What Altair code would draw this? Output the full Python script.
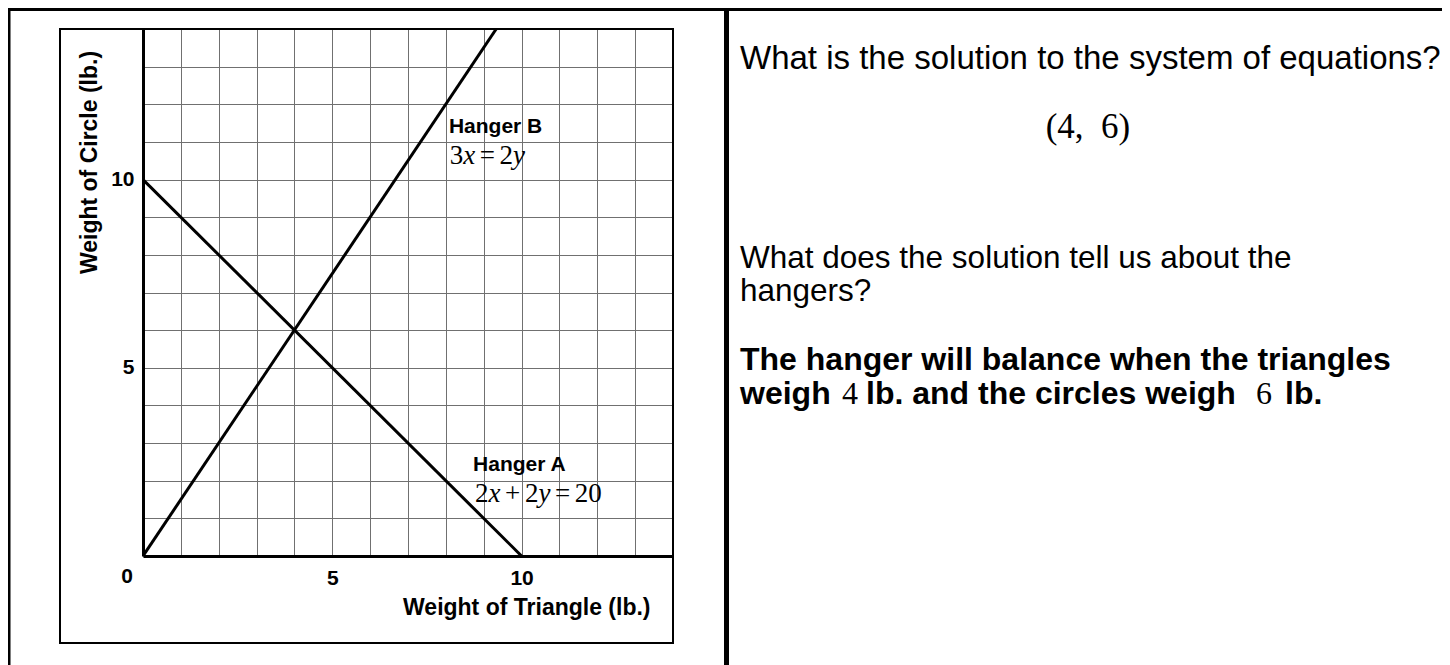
import altair as alt
import pandas as pd

# ---------------- data ----------------
line_hanger = ["A", "A", "B", "B"]
line_x = [0, 10, 0, 9.33]
line_y = [10, 0, 0, 14]

label_text = ["Hanger B", "Hanger A"]
label_x = [8.08, 8.72]
label_y = [11.25, 2.25]

eq_B_parts = [("3", False), ("x", True), ("=", False), ("2", False), ("y", True)]
eq_A_parts = [("2", False), ("x", True), ("+", False), ("2", False), ("y", True),
              ("=", False), ("2", False), ("0", False)]
eq_x = [8.1, 8.77]
eq_y = [10.42, 1.43]

x_ticks = list(range(0, 15))
y_ticks = list(range(0, 15))

q_line1 = "What is the solution to the system of equations?"
answer = "(4,\u00a0\u00a06)"
q_line3 = "What does the solution tell us about the"
q_line4 = "hangers?"
a_line5 = "The hanger will balance when the triangles"
a_line6 = ["weigh", "4", "lb. and the circles weigh", "6", "lb."]
a_line6_serif = [False, True, False, True, False]

# ---------------- layout ----------------
W, H = 530, 527          # plot area
X0, Y0 = 143, 29         # absolute position of plot origin
UNIT = W / 14.0
SANS = "Liberation Sans"
SERIF = "Liberation Serif"


def px(a):
    return a - X0


def py(b):
    return b - Y0


one = pd.DataFrame({"k": [0]})

lines_df = pd.DataFrame({"x": line_x, "y": line_y, "hanger": line_hanger})

xscale = alt.Scale(domain=[0, 14], nice=False, zero=False)
yscale = alt.Scale(domain=[0, 14], nice=False, zero=False)

common_axis = dict(
    format="d",
    labelExpr="(datum.value == 5 || datum.value == 10) ? datum.label : ''",
    grid=True, gridColor="#707070", gridWidth=1, ticks=False, tickSize=0, tickCount=30,
    domainColor="black", domainWidth=3, labelFont=SANS, labelFontSize=21,
    labelFontWeight="bold", labelColor="black", labelOverlap=False, labelFlush=False,
    titleFont=SANS, titleFontSize=23, titleFontWeight="bold", titleColor="black",
    titleBaseline="alphabetic",
)
x_axis = alt.Axis(values=x_ticks, labelPadding=11, title="Weight of Triangle (lb.)",
                  titleX=507, titleY=58, titleAlign="right", **common_axis)
y_axis = alt.Axis(values=y_ticks, labelPadding=9, title="Weight of Circle (lb.)",
                  titleAngle=270, titleX=-47, titleY=133, titleAlign="center",
                  **common_axis)

lines = alt.Chart(lines_df).mark_line(color="black", strokeWidth=3, clip=True).encode(
    x=alt.X("x:Q", scale=xscale, axis=x_axis),
    y=alt.Y("y:Q", scale=yscale, axis=y_axis),
    detail="hanger:N",
)

origin = alt.Chart(pd.DataFrame({"x": [0], "y": [0], "t": ["0"]})).mark_text(
    font=SANS, fontSize=21, fontWeight="bold", color="black", align="center",
    baseline="alphabetic", dx=-16, dy=27,
).encode(x="x:Q", y="y:Q", text="t:N")

labels = alt.Chart(pd.DataFrame({"x": label_x, "y": label_y, "t": label_text})).mark_text(
    font=SANS, fontSize=21, fontWeight="bold", color="black", align="left",
    baseline="alphabetic",
).encode(x="x:Q", y="y:Q", text="t:N")

# equations: digits/operators upright, variables italic
EQ_SIZE = 27
widths = {"0": 0.5, "2": 0.5, "3": 0.5, "x": 0.444, "y": 0.444, "=": 0.564, "+": 0.564}
space = {"=": 0.17, "+": 0.17}
rows = []
for parts, x0, y0 in [(eq_B_parts, eq_x[0], eq_y[0]), (eq_A_parts, eq_x[1], eq_y[1])]:
    cur = 0.0
    for ch, ital in parts:
        sp = space.get(ch, 0.0) * EQ_SIZE
        cur += sp
        rows.append({"x": x0 + cur / UNIT, "y": y0, "t": ch, "ital": ital})
        cur += widths[ch] * EQ_SIZE + sp
eq_df = pd.DataFrame(rows)
eq_up = alt.Chart(eq_df[~eq_df.ital]).mark_text(
    font=SERIF, fontSize=EQ_SIZE, color="black", align="left", baseline="alphabetic"
).encode(x="x:Q", y="y:Q", text="t:N")
eq_it = alt.Chart(eq_df[eq_df.ital]).mark_text(
    font=SERIF, fontSize=EQ_SIZE, fontStyle="italic", color="black", align="left",
    baseline="alphabetic"
).encode(x="x:Q", y="y:Q", text="t:N")

# frames
box = alt.Chart(one).mark_rect(fill="transparent", stroke="black", strokeWidth=2).encode(
    x=alt.value(px(60)), x2=alt.value(px(673)), y=alt.value(py(29)), y2=alt.value(py(643)))


def hrule(y, xa, xb, w):
    return alt.Chart(one).mark_rule(color="black", strokeWidth=w).encode(
        y=alt.value(py(y)), x=alt.value(px(xa)), x2=alt.value(px(xb)))


def vrule(x, ya, yb, w):
    return alt.Chart(one).mark_rule(color="black", strokeWidth=w).encode(
        x=alt.value(px(x)), y=alt.value(py(ya)), y2=alt.value(py(yb)))


RIGHT_EDGE = 1450
BOTTOM_EDGE = 680
frame = [hrule(8.5, 8, 1449, 5), vrule(8, 8, BOTTOM_EDGE, 5), vrule(1447, 8, BOTTOM_EDGE, 4),
         vrule(726.5, 8, BOTTOM_EDGE, 5)]


def txt(s, x, y, size=32, bold=False, font=SANS, align="left"):
    return alt.Chart(pd.DataFrame({"t": [s]})).mark_text(
        font=font, fontSize=size, fontWeight="bold" if bold else "normal", color="black",
        align=align, baseline="alphabetic",
    ).encode(x=alt.value(px(x)), y=alt.value(py(y)), text="t:N")


right = [
    txt(q_line1, 740, 69, size=33),
    txt(answer, 1088, 138, size=35, font=SERIF, align="center"),
    txt(q_line3, 740, 268, size=31.5),
    txt(q_line4, 740, 301, size=31.5),
    txt(a_line5, 740, 370, size=32, bold=True),
]
line6_left = [740, 842, 866, 1256, 1285]
for s, serif, lx in zip(a_line6, a_line6_serif, line6_left):
    if serif:
        right.append(txt(s, lx, 404, size=32, font=SERIF))
    else:
        right.append(txt(s, lx, 404, size=32, bold=True))

chart = alt.layer(lines, origin, labels, eq_up, eq_it, box, *frame, *right).properties(
    width=W, height=H,
    autosize=alt.AutoSizeParams(type="none"),
    padding={"left": X0 - 8, "top": Y0 - 8, "right": RIGHT_EDGE - 8 - (X0 + W),
             "bottom": BOTTOM_EDGE - 8 - (Y0 + H)},
).configure_view(strokeWidth=0)

chart.save("out.html", embed_options={"renderer": "svg", "actions": False})
